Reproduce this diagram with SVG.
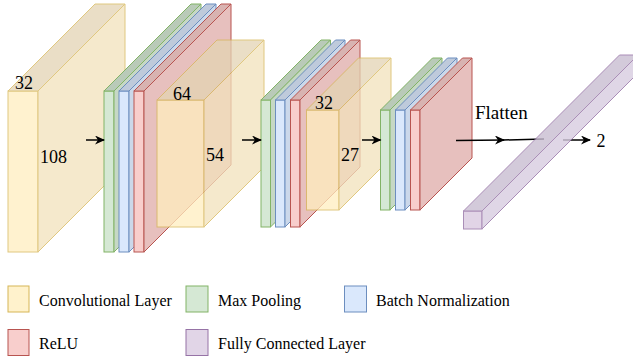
<svg xmlns="http://www.w3.org/2000/svg" width="633" height="360" viewBox="0 0 633 360">
<style>
.conv{opacity:0.75;stroke:#d6b656;stroke-width:1}
.conv .f{fill:#ffeebf}.conv .t{fill:#e3d4b3}.conv .r{fill:#f2e2bc}
.mp{stroke:#82b366;stroke-width:1}.mp .f{fill:#d5e8d4}.mp .t{fill:#b9cab8}.mp .r{fill:#c6d8c5}
.bn{stroke:#6c8ebf;stroke-width:1}.bn .f{fill:#dae8fc}.bn .t{fill:#becadb}.bn .r{fill:#cbd8ea}
.relu{stroke:#b85450;stroke-width:1}.relu .f{fill:#f8cecc}.relu .t{fill:#d8b3b1}.relu .r{fill:#e7c0be}
.fc{opacity:0.8;stroke:#9673a6;stroke-width:1}.fc .f{fill:#dacae1}.fc .t{fill:#c9bdd2}.fc .r{fill:#d8cde0}
.edge{stroke:#000;stroke-width:1.5;fill:none}
</style>
<defs>
<marker id="arr" viewBox="0 0 10 10" refX="9" refY="5" markerWidth="10" markerHeight="9" markerUnits="userSpaceOnUse" orient="auto" preserveAspectRatio="none">
<path d="M0,0 L10,5 L0,10 L3,5 z" fill="#000"/>
</marker>
</defs>

<g id="conv1" class="conv">
<rect class="f" x="8" y="91" width="30" height="161"/>
<polygon class="t" points="8,91 38,91 125,4 95,4"/>
<polygon class="r" points="38,91 125,4 125,165 38,252"/>
</g>

<g id="maxpool1" class="mp">
<rect class="f" x="104" y="91" width="10" height="161"/>
<polygon class="t" points="104,91 114,91 201,4 191,4"/>
<polygon class="r" points="114,91 201,4 201,165 114,252"/>
</g>
<g id="batchnorm1" class="bn">
<rect class="f" x="119" y="91" width="10" height="161"/>
<polygon class="t" points="119,91 129,91 216,4 206,4"/>
<polygon class="r" points="129,91 216,4 216,165 129,252"/>
</g>
<g id="relu1" class="relu">
<rect class="f" x="134" y="91" width="10" height="161"/>
<polygon class="t" points="134,91 144,91 231,4 221,4"/>
<polygon class="r" points="144,91 231,4 231,165 144,252"/>
</g>

<g id="conv2" class="conv">
<rect class="f" x="157" y="100" width="47" height="127"/>
<polygon class="t" points="157,100 204,100 264,40 217,40"/>
<polygon class="r" points="204,100 264,40 264,167 204,227"/>
</g>

<g id="maxpool2" class="mp">
<rect class="f" x="261" y="100" width="9.5" height="127"/>
<polygon class="t" points="261,100 270.5,100 330.5,40 321,40"/>
<polygon class="r" points="270.5,100 330.5,40 330.5,167 270.5,227"/>
</g>
<g id="batchnorm2" class="bn">
<rect class="f" x="275.5" y="100" width="9.5" height="127"/>
<polygon class="t" points="275.5,100 285,100 345,40 335.5,40"/>
<polygon class="r" points="285,100 345,40 345,167 285,227"/>
</g>
<g id="relu2" class="relu">
<rect class="f" x="290.5" y="100" width="9.5" height="127"/>
<polygon class="t" points="290.5,100 300,100 360,40 350.5,40"/>
<polygon class="r" points="300,100 360,40 360,167 300,227"/>
</g>

<g id="conv3" class="conv">
<rect class="f" x="306.5" y="110" width="32.5" height="100"/>
<polygon class="t" points="306.5,110 339,110 391,58 358.5,58"/>
<polygon class="r" points="339,110 391,58 391,158 339,210"/>
</g>

<g id="maxpool3" class="mp">
<rect class="f" x="380.5" y="110" width="9.5" height="100"/>
<polygon class="t" points="380.5,110 390,110 442,58 432.5,58"/>
<polygon class="r" points="390,110 442,58 442,158 390,210"/>
</g>
<g id="batchnorm3" class="bn">
<rect class="f" x="395.5" y="110" width="9.5" height="100"/>
<polygon class="t" points="395.5,110 405,110 457,58 447.5,58"/>
<polygon class="r" points="405,110 457,58 457,158 405,210"/>
</g>
<g id="relu3" class="relu">
<rect class="f" x="410.5" y="110" width="9.5" height="100"/>
<polygon class="t" points="410.5,110 420,110 472,58 462.5,58"/>
<polygon class="r" points="420,110 472,58 472,158 420,210"/>
</g>

<g id="connectors">
<line class="edge" x1="86" y1="140" x2="104" y2="140" marker-end="url(#arr)"/>
<line class="edge" x1="242" y1="140" x2="261" y2="140" marker-end="url(#arr)"/>
<line class="edge" x1="362" y1="140" x2="380.5" y2="140" marker-end="url(#arr)"/>
<line class="edge" x1="456" y1="140.5" x2="504" y2="140" marker-end="url(#arr)"/>
<line class="edge" x1="503" y1="140" x2="544" y2="139"/>
<line class="edge" x1="563" y1="140" x2="590" y2="140" marker-end="url(#arr)"/>
</g>

<g id="fc" class="fc">
<rect class="f" x="463.5" y="211" width="18.5" height="18"/>
<polygon class="t" points="463.5,211 482,211 638,55 619.5,55"/>
<polygon class="r" points="482,211 638,55 638,73 482,229"/>
</g>

<g id="labels" font-family="Liberation Serif, Times New Roman, serif" font-size="18" fill="#000">
<text x="24" y="89" text-anchor="middle">32</text>
<text x="53.5" y="163" text-anchor="middle">108</text>
<text x="182" y="99.5" text-anchor="middle">64</text>
<text x="215" y="161" text-anchor="middle">54</text>
<text x="324" y="108.5" text-anchor="middle">32</text>
<text x="350" y="160.5" text-anchor="middle">27</text>
<text x="475" y="119" font-size="19">Flatten</text>
<text x="596.5" y="146.5">2</text>
</g>

<g id="legend" font-family="Liberation Serif, Times New Roman, serif" font-size="16" fill="#000">
<g id="leg-conv"><rect x="8" y="286" width="21" height="26" fill="#fff2cc" stroke="#d6b656"/><text x="39" y="306">Convolutional Layer</text></g>
<g id="leg-mp"><rect x="186" y="286" width="22" height="26" fill="#d5e8d4" stroke="#82b366"/><text x="218" y="306">Max Pooling</text></g>
<g id="leg-bn"><rect x="344.5" y="286" width="22" height="26" fill="#dae8fc" stroke="#6c8ebf"/><text x="376" y="306">Batch Normalization</text></g>
<g id="leg-relu"><rect x="8" y="329.5" width="21" height="26" fill="#f8cecc" stroke="#b85450"/><text x="39" y="349">ReLU</text></g>
<g id="leg-fc"><rect x="186" y="329.5" width="22" height="26" fill="#e1d5e7" stroke="#9673a6"/><text x="218" y="349">Fully Connected Layer</text></g>
</g>
</svg>
